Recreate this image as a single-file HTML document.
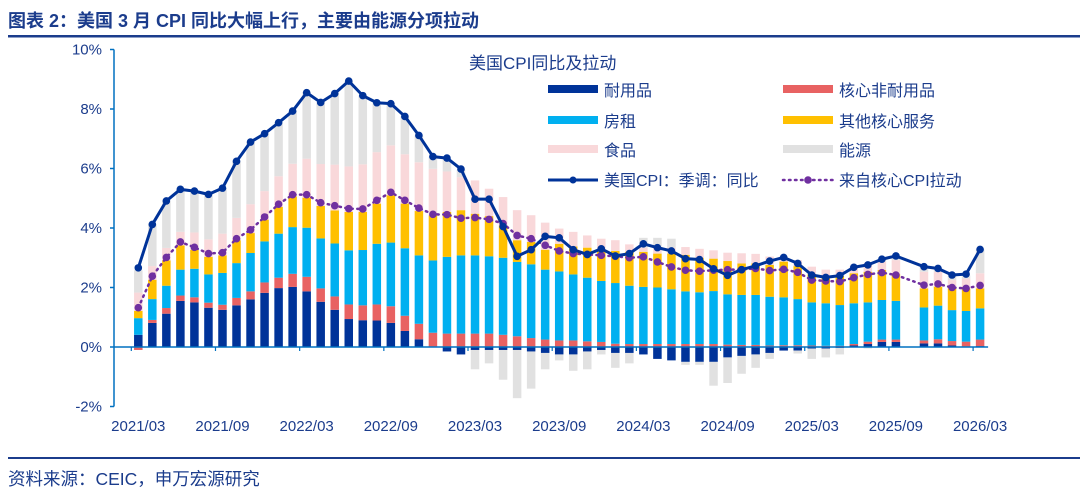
<!DOCTYPE html>
<html><head><meta charset="utf-8">
<style>
body{margin:0;background:#fff;width:1080px;height:493px;overflow:hidden;font-family:"Liberation Sans","Noto Sans CJK SC",sans-serif;}
svg text{font-family:"Liberation Sans","Noto Sans CJK SC",sans-serif;}
</style></head>
<body>
<svg id="chart" width="1080" height="493" xmlns="http://www.w3.org/2000/svg">
<text x="8" y="27" font-size="18" font-weight="bold" fill="#1B3C8C">图表 2：美国 3 月 CPI 同比大幅上行，主要由能源分项拉动</text>
<rect x="8" y="35" width="1072" height="2.5" fill="#1B3C8C"/>
<rect x="8" y="457" width="1072" height="2" fill="#1B3C8C"/>
<text x="8" y="485" font-size="17.5" fill="#1B3C8C">资料来源：CEIC，申万宏源研究</text>
<g id="plot"></g>
<g id="legend">
<text x="469" y="69" font-size="17" fill="#1B3C8C">美国CPI同比及拉动</text>
<rect x="548" y="85" width="50" height="8" fill="#003399"/>
<text x="604" y="96" font-size="16" fill="#1B3C8C">耐用品</text>
<rect x="783" y="85" width="50" height="8" fill="#E86262"/>
<text x="839" y="96" font-size="16" fill="#1B3C8C">核心非耐用品</text>
<rect x="548" y="116" width="50" height="8" fill="#00B0F0"/>
<text x="604" y="127" font-size="16" fill="#1B3C8C">房租</text>
<rect x="783" y="116" width="50" height="8" fill="#FFC000"/>
<text x="839" y="127" font-size="16" fill="#1B3C8C">其他核心服务</text>
<rect x="548" y="145" width="50" height="8" fill="#F9D8DA"/>
<text x="604" y="156" font-size="16" fill="#1B3C8C">食品</text>
<rect x="783" y="145" width="50" height="8" fill="#E1E1E1"/>
<text x="839" y="156" font-size="16" fill="#1B3C8C">能源</text>
<line x1="548" y1="180" x2="598" y2="180" stroke="#003399" stroke-width="3"/>
<circle cx="573" cy="180" r="3.5" fill="#003399"/>
<text x="604" y="186" font-size="16" fill="#1B3C8C">美国CPI：季调：同比</text>
<line x1="783" y1="180" x2="833" y2="180" stroke="#7030A0" stroke-width="2.5" stroke-dasharray="1.5 4.5" stroke-linecap="round"/>
<circle cx="808" cy="180" r="3.8" fill="#7030A0"/>
<text x="839" y="186" font-size="16" fill="#1B3C8C">来自核心CPI拉动</text>
</g>
</svg>
<script>
const months = ["2021/03","2021/04","2021/05","2021/06","2021/07","2021/08","2021/09","2021/10","2021/11","2021/12","2022/01","2022/02","2022/03","2022/04","2022/05","2022/06","2022/07","2022/08","2022/09","2022/10","2022/11","2022/12","2023/01","2023/02","2023/03","2023/04","2023/05","2023/06","2023/07","2023/08","2023/09","2023/10","2023/11","2023/12","2024/01","2024/02","2024/03","2024/04","2024/05","2024/06","2024/07","2024/08","2024/09","2024/10","2024/11","2024/12","2025/01","2025/02","2025/03","2025/04","2025/05","2025/06","2025/07","2025/08","2025/09","2025/10","2025/11","2025/12","2026/01","2026/02","2026/03"];
const durables = [0.41,0.81,1.12,1.55,1.5,1.32,1.25,1.4,1.6,1.82,1.98,2.02,1.87,1.52,1.25,0.94,0.9,0.89,0.81,0.54,0.26,0.02,-0.15,-0.25,-0.1,-0.1,-0.1,-0.1,-0.15,-0.2,-0.25,-0.25,-0.15,-0.1,-0.2,-0.2,-0.25,-0.4,-0.45,-0.5,-0.5,-0.5,-0.35,-0.3,-0.25,-0.2,-0.12,-0.12,-0.05,-0.05,-0.03,0.05,0.1,0.17,0.17,null,0.12,0.12,0.05,0.02,0.03];
const coreNondurables = [-0.1,0.1,0.19,0.18,0.17,0.17,0.17,0.25,0.27,0.35,0.35,0.44,0.49,0.45,0.45,0.49,0.5,0.54,0.56,0.51,0.52,0.46,0.45,0.45,0.45,0.45,0.41,0.36,0.3,0.25,0.22,0.22,0.19,0.17,0.11,0.1,0.1,0.1,0.1,0.1,0.1,0.1,0.08,0.07,0.07,0.05,0.06,0.06,0.05,0.04,0.04,0.05,0.08,0.08,0.08,null,0.1,0.14,0.15,0.16,0.22];
const rent = [0.56,0.7,0.75,0.87,0.96,0.95,1.07,1.17,1.29,1.38,1.48,1.57,1.65,1.68,1.78,1.82,1.86,2.04,2.14,2.27,2.3,2.43,2.58,2.63,2.63,2.6,2.59,2.5,2.48,2.35,2.32,2.22,2.14,2.05,2.04,1.96,1.92,1.9,1.84,1.77,1.74,1.78,1.69,1.68,1.68,1.64,1.61,1.55,1.45,1.43,1.37,1.37,1.32,1.33,1.3,null,1.11,1.13,1.04,1.03,1.05];
const otherCore = [0.24,0.65,0.85,0.82,0.64,0.59,0.59,0.77,0.67,0.73,0.9,1.03,1.01,1.09,1.11,1.29,1.28,1.35,1.59,1.5,1.49,1.52,1.51,1.52,1.4,1.35,1.09,0.73,0.75,0.67,0.93,0.94,1.01,1.03,1.08,1.14,1.18,1.14,1.2,1.23,1.16,1.09,1.12,1.06,1.06,1.07,1.2,1.11,0.95,0.92,0.98,1.01,1.03,1.01,0.9,null,0.64,0.64,0.73,0.76,0.67];
const food = [0.62,0.46,0.42,0.45,0.58,0.59,0.73,0.75,0.97,0.96,1.03,1.1,1.31,1.41,1.54,1.53,1.6,1.73,1.68,1.66,1.64,1.56,1.36,1.11,1.12,0.92,0.95,1.01,0.9,0.91,0.51,0.49,0.41,0.39,0.36,0.25,0.14,0.2,0.2,0.26,0.3,0.28,0.28,0.34,0.32,0.28,0.13,0.2,0.25,0.21,0.21,0.23,0.29,0.28,0.47,null,0.56,0.5,0.28,0.33,0.51];
const energy = [0.75,1.4,1.58,1.43,1.39,1.51,1.53,1.9,2.09,1.93,1.8,1.77,2.22,2.07,2.39,2.87,2.31,1.66,1.4,1.27,0.9,0.4,0.41,0.24,-0.65,-0.45,-1.0,-1.62,-1.25,-0.55,-0.2,-0.55,-0.6,-0.15,-0.5,-0.35,0.33,0.33,0.3,-0.1,-0.1,-0.8,-0.86,-0.6,-0.45,-0.2,0.05,-0.1,-0.35,-0.3,-0.22,0.0,-0.05,0.1,0.15,null,0.17,0.1,0.15,0.1,0.8];
const cpi = [2.66,4.12,4.91,5.3,5.24,5.13,5.34,6.24,6.89,7.17,7.54,7.93,8.55,8.22,8.52,8.94,8.45,8.21,8.18,7.75,7.11,6.4,6.35,5.98,4.97,4.97,4.05,3.05,3.27,3.72,3.67,3.27,3.11,3.3,3.06,3.14,3.47,3.34,3.23,2.97,2.94,2.63,2.41,2.6,2.73,2.89,3.01,2.81,2.42,2.34,2.4,2.68,2.76,2.95,3.06,null,2.7,2.64,2.42,2.45,3.28];
const core = [1.32,2.38,3.01,3.53,3.35,3.14,3.17,3.64,3.94,4.37,4.8,5.12,5.12,4.85,4.75,4.65,4.64,4.93,5.2,4.93,4.67,4.46,4.45,4.33,4.35,4.29,4.15,3.75,3.64,3.42,3.23,3.14,3.11,3.08,3.05,3.0,3.03,2.86,2.69,2.58,2.55,2.58,2.6,2.6,2.64,2.57,2.61,2.51,2.25,2.22,2.2,2.33,2.44,2.5,2.42,null,2.08,2.12,2.0,1.97,2.07];
const yTicks = [-2,0,2,4,6,8,10];
const xTickLabels = ["2021/03","2021/09","2022/03","2022/09","2023/03","2023/09","2024/03","2024/09","2025/03","2025/09","2026/03"];

const NS="http://www.w3.org/2000/svg";
const plot=document.getElementById('plot');
const X0=138.3, DX=14.03, Y0=347, PY=29.75;
function xs(i){return X0+DX*i;}
function ys(v){return Y0-v*PY;}
function mk(tag,attrs,parent){const e=document.createElementNS(NS,tag);for(const k in attrs)e.setAttribute(k,attrs[k]);(parent||plot).appendChild(e);return e;}

const yax=mk('line',{x1:114,y1:ys(10),x2:114,y2:ys(-2),stroke:'#0070C0','stroke-width':1.5});


yTicks.forEach(v=>{
  const t=mk('line',{x1:110,y1:ys(v),x2:114,y2:ys(v),stroke:'#0070C0','stroke-width':1.5});
  
  
  const l=mk('text',{x:102,y:ys(v)+5,'text-anchor':'end','font-size':15,fill:'#1B3C8C'});
  l.textContent=v+'%';
  
  
});

const series=[['durables',durables,'#003399'],['core-nondurables',coreNondurables,'#E86262'],['rent',rent,'#00B0F0'],['other-core',otherCore,'#FFC000'],['food',food,'#F9D8DA'],['energy',energy,'#E1E1E1']];
const BW=8.5;
months.forEach((m,i)=>{
  let pos=0,neg=0;
  series.forEach(([name,arr,col])=>{
    const v=arr[i]; if(v==null||v===0) return;
    let y1,y2;
    if(v>0){y1=pos;y2=pos+v;pos=y2;}else{y1=neg;y2=neg+v;neg=y2;}
    const r=mk('rect',{x:xs(i)-BW/2,y:ys(Math.max(y1,y2)),width:BW,height:Math.abs(y2-y1)*PY,fill:col});
    
    
  });
});

const xax=mk('line',{x1:114,y1:Y0,x2:xs(60)+8,y2:Y0,stroke:'#0070C0','stroke-width':1.5});


xTickLabels.forEach(lab=>{
  const i=months.indexOf(lab);
  const t=mk('line',{x1:xs(i)-7,y1:Y0,x2:xs(i)-7,y2:Y0+4,stroke:'#0070C0','stroke-width':1.2});
  
  
  const l=mk('text',{x:xs(i),y:431,'text-anchor':'middle','font-size':15,fill:'#1B3C8C'});
  l.textContent=lab;
  
  
});

function pts(arr){const p=[];arr.forEach((v,i)=>{if(v!=null)p.push([xs(i),ys(v)]);});return p;}
const cp=pts(core);
const cl=mk('polyline',{points:cp.map(p=>p.join(',')).join(' '),fill:'none',stroke:'#7030A0','stroke-width':2.5,'stroke-dasharray':'1.5 4.5','stroke-linecap':'round'});


cp.forEach(p=>{
  const c=mk('circle',{cx:p[0],cy:p[1],r:3.8,fill:'#7030A0'});
  
  
});
const pp=pts(cpi);
const pl=mk('polyline',{points:pp.map(p=>p.join(',')).join(' '),fill:'none',stroke:'#003399','stroke-width':3,'stroke-linejoin':'round'});


pp.forEach(p=>{
  const c=mk('circle',{cx:p[0],cy:p[1],r:3.8,fill:'#003399'});
  
  
});
</script>
</body></html>
